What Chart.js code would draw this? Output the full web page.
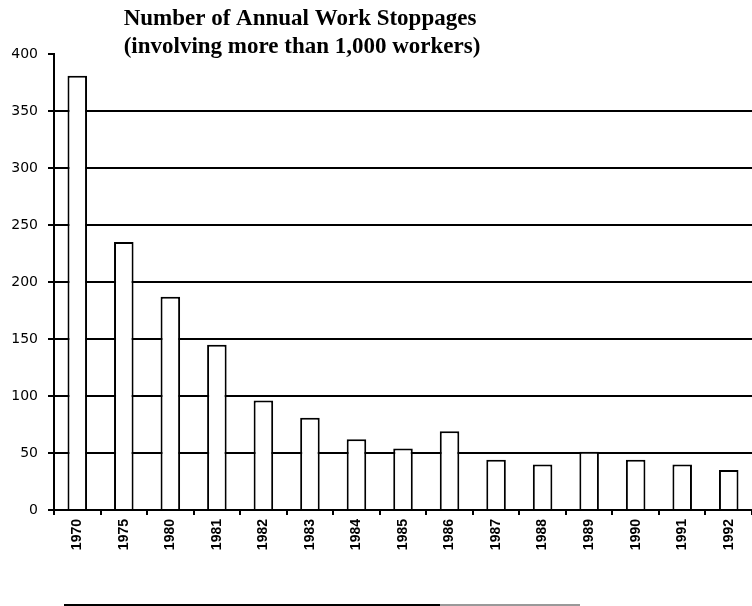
<!DOCTYPE html>
<html>
<head>
<meta charset="utf-8">
<script src="https://cdn.jsdelivr.net/npm/chart.js@4.4.1/dist/chart.umd.min.js"></script>
<style>
  body { margin: 0; background: #fff; }
  canvas { display: block; }
</style>
</head>
<body>
<canvas id="stoppageChart" width="752" height="606"></canvas>
<script>
const years = ["1970", "1975", "1980", "1981", "1982", "1983", "1984", "1985",
  "1986", "1987", "1988", "1989", "1990", "1991", "1992"];
const stoppages = [381, 235, 187, 145, 96, 81, 62, 54, 69, 44, 40, 51, 44, 40, 35];
const titleLines = ["Number of Annual Work Stoppages", "(involving more than 1,000 workers)"];

// title sits over the plot, centred left of the canvas middle, plus the rule at the bottom
const extras = {
  id: "extras",
  afterDraw(chart) {
    const ctx = chart.ctx;
    ctx.save();
    ctx.fillStyle = "#000";
    ctx.font = "bold 23px 'Liberation Serif', 'DejaVu Serif', serif";
    ctx.textAlign = "center";
    ctx.textBaseline = "middle";
    ctx.fillText(titleLines[0], 300, 19);
    ctx.fillText(titleLines[1], 302, 47);

    ctx.lineWidth = 2;
    ctx.strokeStyle = "#000";
    ctx.beginPath();
    ctx.moveTo(64, 605);
    ctx.lineTo(440, 605);
    ctx.stroke();
    ctx.strokeStyle = "#999";
    ctx.beginPath();
    ctx.moveTo(440, 605);
    ctx.lineTo(580, 605);
    ctx.stroke();
    ctx.restore();
  },
};

const ctx = document.getElementById("stoppageChart").getContext("2d");
const chart = new Chart(ctx, {
  type: "bar",
  data: {
    labels: years,
    datasets: [
      {
        label: "Work stoppages",
        data: stoppages,
        backgroundColor: "#fff",
        borderColor: "#000",
        borderWidth: 2,
        borderSkipped: "start",
        barPercentage: 0.42,
        categoryPercentage: 1,
      },
    ],
  },
  options: {
    responsive: false,
    devicePixelRatio: 1,
    animation: false,
    layout: {
      padding: { top: 54, left: 0, right: 0, bottom: 0 },
    },
    plugins: {
      legend: { display: false },
      title: { display: false },
      tooltip: { enabled: false },
    },
    scales: {
      x: {
        offset: true,
        afterFit: (scale) => {
          scale.height = 96;
        },
        grid: {
          offset: true,
          drawOnChartArea: false,
          drawTicks: true,
          tickLength: 5,
          color: "#000",
          lineWidth: 2,
        },
        border: { color: "#000", width: 2 },
        ticks: {
          minRotation: 90,
          maxRotation: 90,
          padding: 4,
          color: "#000",
          font: { family: "'Liberation Sans', Arial, sans-serif", size: 14, weight: "bold" },
        },
      },
      y: {
        min: 0,
        max: 400,
        afterFit: (scale) => {
          scale.width = 54;
        },
        grid: {
          color: (c) => (c.tick && c.tick.value === 400 ? "rgba(0,0,0,0)" : "#000"),
          tickColor: "#000",
          lineWidth: 2,
          tickLength: 6,
        },
        border: { color: "#000", width: 2 },
        ticks: {
          stepSize: 50,
          padding: 10,
          color: "#000",
          font: { family: "'DejaVu Sans', sans-serif", size: 14 },
        },
      },
    },
  },
  plugins: [extras],
});
</script>
</body>
</html>
